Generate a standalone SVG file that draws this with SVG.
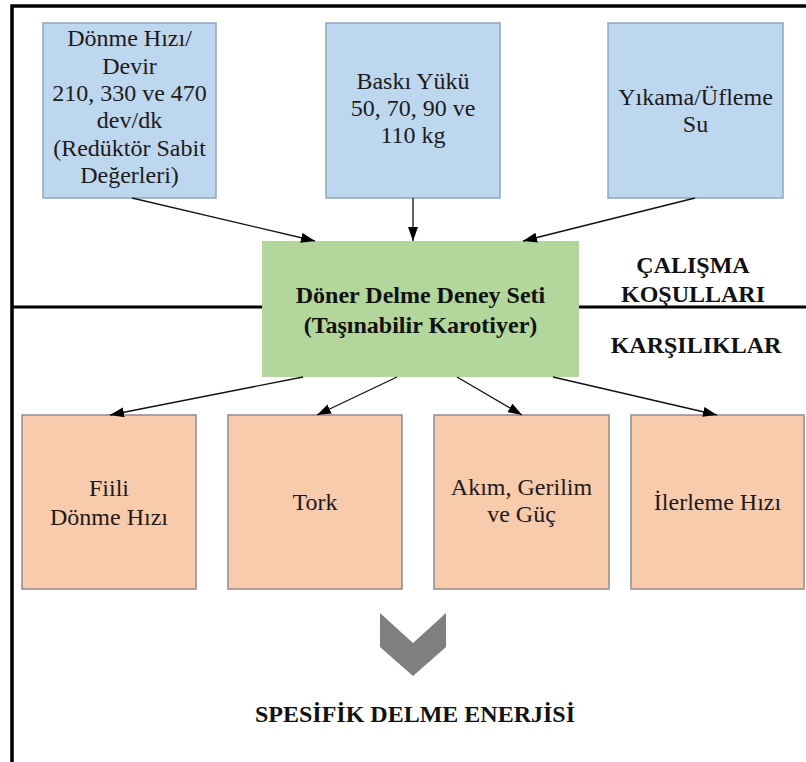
<svg xmlns="http://www.w3.org/2000/svg" width="806" height="762" viewBox="0 0 806 762">
<defs>
<marker id="ah" viewBox="0 0 14 10" refX="14" refY="5" markerWidth="14" markerHeight="10" markerUnits="userSpaceOnUse" orient="auto">
<path d="M0,0 L14,5 L0,10 Z" fill="#000"/>
</marker>
</defs>
<rect width="806" height="762" fill="#fff"/>
<g id="frame" stroke="#000" fill="none">
<path d="M12,762 V6 H806" stroke-width="3.5"/>
<line x1="12" y1="307" x2="262" y2="307" stroke-width="3"/>
<line x1="579" y1="307" x2="806" y2="307" stroke-width="3"/>
</g>
<g font-family="Liberation Serif" font-size="24" text-anchor="middle" fill="#1e1a1a">
<g id="n-donme">
<rect x="43" y="23" width="173" height="175" fill="#BDD7EE" stroke="#8FA6BD" stroke-width="1.5"/>
<text x="129.5" y="46">Dönme Hızı/</text>
<text x="129.5" y="73.5">Devir</text>
<text x="129.5" y="101">210, 330 ve 470</text>
<text x="129.5" y="128">dev/dk</text>
<text x="129.5" y="155.5">(Redüktör Sabit</text>
<text x="129.5" y="183">Değerleri)</text>
</g>
<g id="n-baski">
<rect x="326" y="23" width="174" height="175" fill="#BDD7EE" stroke="#8FA6BD" stroke-width="1.5"/>
<text x="413" y="89">Baskı Yükü</text>
<text x="413" y="116">50, 70, 90 ve</text>
<text x="413" y="143">110 kg</text>
</g>
<g id="n-yikama">
<rect x="608" y="23" width="175" height="175" fill="#BDD7EE" stroke="#8FA6BD" stroke-width="1.5"/>
<text x="695.5" y="105">Yıkama/Üfleme</text>
<text x="695.5" y="132">Su</text>
</g>
<g id="n-fiili">
<rect x="22" y="415" width="174" height="174" fill="#F8CBAD" stroke="#8A8C90" stroke-width="1.5"/>
<text x="109" y="496">Fiili</text>
<text x="109" y="525">Dönme Hızı</text>
</g>
<g id="n-tork">
<rect x="228" y="415" width="174" height="174" fill="#F8CBAD" stroke="#8A8C90" stroke-width="1.5"/>
<text x="315" y="510">Tork</text>
</g>
<g id="n-akim">
<rect x="434" y="415" width="175" height="174" fill="#F8CBAD" stroke="#8A8C90" stroke-width="1.5"/>
<text x="521.5" y="495">Akım, Gerilim</text>
<text x="521.5" y="522">ve Güç</text>
</g>
<g id="n-ilerleme">
<rect x="631" y="415" width="173" height="174" fill="#F8CBAD" stroke="#8A8C90" stroke-width="1.5"/>
<text x="717.5" y="510">İlerleme Hızı</text>
</g>
<g font-weight="bold" fill="#111">
<g id="n-set">
<rect x="262" y="241" width="317" height="136" fill="#B3D69C"/>
<text x="420.5" y="303">Döner Delme Deney Seti</text>
<text x="420.5" y="333">(Taşınabilir Karotiyer)</text>
</g>
<g id="l-calisma">
<text x="693" y="273">ÇALIŞMA</text>
<text x="693" y="302">KOŞULLARI</text>
</g>
<g id="l-karsiliklar">
<text x="696" y="353">KARŞILIKLAR</text>
</g>
<g id="l-sde">
<text x="415" y="722">SPESİFİK DELME ENERJİSİ</text>
</g>
</g>
</g>
<g id="connectors" stroke="#111" stroke-width="1.3" marker-end="url(#ah)">
<line x1="132" y1="198" x2="315" y2="241"/>
<line x1="413" y1="198" x2="413" y2="241"/>
<line x1="695" y1="198" x2="523" y2="241"/>
<line x1="303" y1="377" x2="110" y2="415"/>
<line x1="397" y1="377" x2="317" y2="415"/>
<line x1="457" y1="377" x2="522" y2="415"/>
<line x1="553" y1="377" x2="717" y2="415"/>
</g>
<g id="chevron">
<polygon points="380,613 413,643 446,613 446,647 413,676 380,647" fill="#7F7F7F"/>
</g>
</svg>
